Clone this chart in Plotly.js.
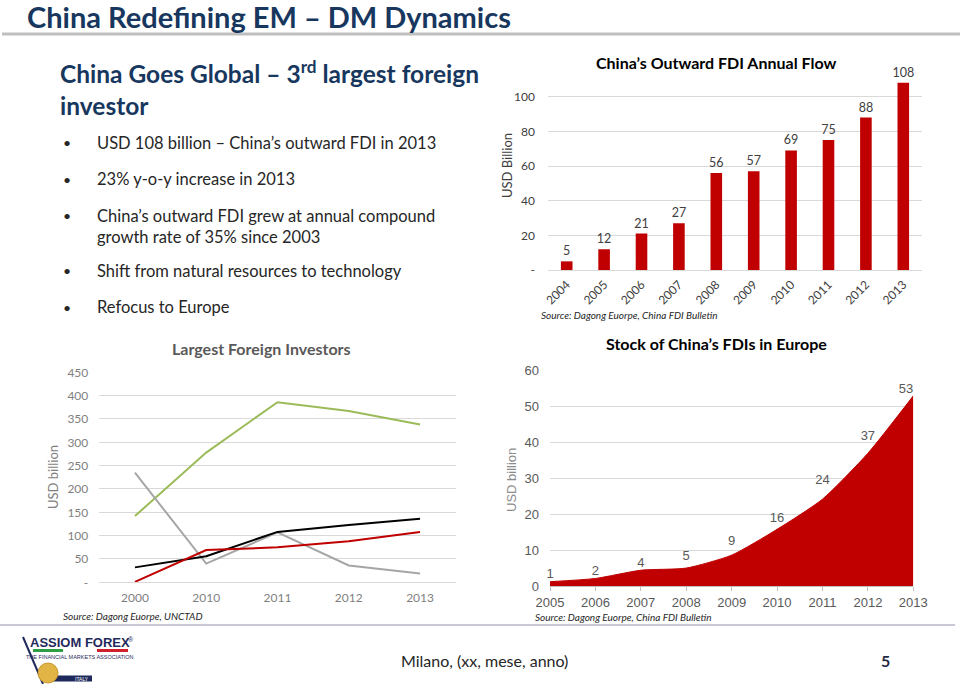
<!DOCTYPE html>
<html><head><meta charset="utf-8">
<script src="https://cdn.plot.ly/plotly-3.0.1.min.js"></script>
<style>html,body{margin:0;padding:0;background:#fff;overflow:hidden}#chart{width:960px;height:684px}</style>
</head><body><div id="chart"></div>
<script>
// ---- data ----
const flowYears = ['2004','2005','2006','2007','2008','2009','2010','2011','2012','2013'];
const flowValues = [5, 12, 21, 27, 56, 57, 69, 75, 88, 108];
const flowTickVals = [0, 20, 40, 60, 80, 100];
const flowTickText = ['-', '20', '40', '60', '80', '100'];

const investorYears = ['2000','2010','2011','2012','2013'];
const usValues    = [142, 278, 386, 367, 338];
const japanValues = [32, 56, 108, 123, 136];
const chinaValues = [1, 69, 75, 88, 108];
const ukValues    = [235, 40, 107, 36, 19];
const investorTickVals = [0, 50, 100, 150, 200, 250, 300, 350, 400, 450];
const investorTickText = ['-', '50', '100', '150', '200', '250', '300', '350', '400', '450'];

const stockYears  = ['2005','2006','2007','2008','2009','2010','2011','2012','2013'];
const stockValues = [1.2, 2.1, 4.4, 5.0, 8.6, 15.8, 24.2, 37, 53];
const stockLabels = ['1','2','4','5','9','16','24','37','53'];

// ---- helpers ----
const W = 960, H = 684;
const px = x => x / W;
const py = y => 1 - y / H;
const CAL = 'Lato, "Open Sans", sans-serif';
const ARI = '"Liberation Sans", Arial, sans-serif';
const NAVY = '#17375e';
const RED = '#c00000';

// spacing of the value labels above the area (style only)
const stockLabelGap = [0, 0, 0, 6, 10, 5, 17, 15, 0];

const traces = [
  { type: 'bar', x: flowYears, y: flowValues, xaxis: 'x', yaxis: 'y',
    marker: { color: RED }, text: flowValues.map(String), textposition: 'outside',
    constraintext: 'none', textfont: { family: CAL, size: 12.5, color: '#404040' }, cliponaxis: false,
    hoverinfo: 'skip' },
  { type: 'scatter', mode: 'lines', x: investorYears, y: usValues, xaxis: 'x2', yaxis: 'y2',
    line: { color: '#9bbb59', width: 2 }, name: 'US' },
  { type: 'scatter', mode: 'lines', x: investorYears, y: ukValues, xaxis: 'x2', yaxis: 'y2',
    line: { color: '#a6a6a6', width: 2 }, name: 'UK' },
  { type: 'scatter', mode: 'lines', x: investorYears, y: japanValues, xaxis: 'x2', yaxis: 'y2',
    line: { color: '#000000', width: 2 }, name: 'Japan' },
  { type: 'scatter', mode: 'lines', x: investorYears, y: chinaValues, xaxis: 'x2', yaxis: 'y2',
    line: { color: RED, width: 2 }, name: 'China' },
  { type: 'scatter', mode: 'lines', x: stockYears, y: stockValues, xaxis: 'x3', yaxis: 'y3',
    fill: 'tozeroy', fillcolor: RED, line: { color: RED, width: 1, shape: 'spline', smoothing: 0.6 } },
  { type: 'scatter', mode: 'markers+text', x: stockYears, y: stockValues, xaxis: 'x3', yaxis: 'y3',
    text: stockLabels, cliponaxis: false,
    marker: { size: stockLabelGap, color: 'rgba(0,0,0,0)', opacity: 0, line: { width: 0, color: 'rgba(0,0,0,0)' } },
    textposition: stockLabels.map((_, i) => i === stockLabels.length - 1 ? 'top left' : 'top center'),
    textfont: { family: ARI, size: 13, color: '#595959' } }
];

const gridC = '#d9d9d9';
const layout = {
  width: W, height: H, margin: { l: 0, r: 0, t: 0, b: 0 },
  paper_bgcolor: '#fff', plot_bgcolor: 'rgba(0,0,0,0)', showlegend: false,
  bargap: 0.69,
  xaxis: { domain: [px(548), px(922)], anchor: 'y', type: 'category', range: [-0.5, 9.5],
    tickangle: -45, tickfont: { family: CAL, size: 12, color: '#404040' },
    showline: true, linecolor: gridC, showgrid: false, ticks: '', ticklabelstandoff: 2 },
  yaxis: { domain: [py(270), py(79.4)], anchor: 'x', range: [0, 110],
    tickvals: flowTickVals, ticktext: flowTickText, gridcolor: gridC, zeroline: false,
    tickfont: { family: CAL, size: 12, color: '#404040' }, ticklabelstandoff: 12 },
  xaxis2: { domain: [px(99.3), px(455.7)], anchor: 'y2', type: 'category', range: [-0.5, 4.5],
    tickfont: { family: CAL, size: 12, color: '#7f7f7f' }, showline: true, linecolor: gridC,
    showgrid: false, ticks: '', ticklabelstandoff: 4 },
  yaxis2: { domain: [py(582.3), py(372.3)], anchor: 'x2', range: [0, 450],
    tickvals: investorTickVals, ticktext: investorTickText, gridcolor: gridC, zeroline: false,
    tickfont: { family: CAL, size: 12, color: '#7f7f7f' }, ticklabelstandoff: 10 },
  xaxis3: { domain: [px(550), px(913.3)], anchor: 'y3', type: 'category', range: [0, 8],
    tickfont: { family: ARI, size: 13, color: '#595959' }, showline: true, linecolor: '#bfbfbf',
    showgrid: false, ticks: 'outside', ticklen: 4, tickcolor: '#bfbfbf' },
  yaxis3: { domain: [py(586), py(370.7)], anchor: 'x3', range: [0, 60], dtick: 10,
    gridcolor: gridC, zeroline: false,
    tickfont: { family: ARI, size: 13, color: '#595959' }, ticklabelstandoff: 10 },
  shapes: [
    { type: 'line', xref: 'paper', yref: 'paper', x0: px(2), x1: 1, y0: py(34), y1: py(34),
      line: { color: '#bfbfbf', width: 3 } },
    { type: 'line', xref: 'paper', yref: 'paper', x0: 0, x1: px(955), y0: py(625), y1: py(625),
      line: { color: '#c9c9d6', width: 2 } },
    // logo
    { type: 'line', xref: 'paper', yref: 'paper', x0: px(23), y0: py(637), x1: px(43), y1: py(684),
      line: { color: '#1f2a5c', width: 2 } },
    { type: 'rect', xref: 'paper', yref: 'paper', x0: px(33), x1: px(63), y0: py(649), y1: py(652),
      fillcolor: '#2e9e44', line: { width: 0 } },
    { type: 'rect', xref: 'paper', yref: 'paper', x0: px(97), x1: px(128), y0: py(649), y1: py(652),
      fillcolor: '#d0202e', line: { width: 0 } },
    { type: 'rect', xref: 'paper', yref: 'paper', x0: px(48), x1: px(92), y0: py(675.5), y1: py(681.5),
      fillcolor: '#1f2a5c', line: { width: 0 } },
    { type: 'circle', xref: 'paper', yref: 'paper', x0: px(38), x1: px(58), y0: py(663), y1: py(683),
      fillcolor: '#e2b445', line: { color: '#c8962a', width: 1 } }
  ],
  annotations: []
};

function note(text, x, y, opts) {
  layout.annotations.push(Object.assign({ text, x: px(x), y: py(y), xref: 'paper', yref: 'paper',
    showarrow: false, xanchor: 'left', yanchor: 'middle' }, opts || {}));
}

// slide text
note('<b>China Redefining EM – DM Dynamics</b>', 25, 16, { font: { family: CAL, size: 29, color: NAVY } });
note('<b>China Goes Global – 3<sup>rd</sup> largest foreign<br>investor</b>', 58, 88,
  { font: { family: CAL, size: 24.5, color: NAVY }, align: 'left' });
const bullets = [
  ['USD 108 billion – China’s outward FDI in 2013', 143],
  ['23% y-o-y increase in 2013', 179],
  ['China’s outward FDI grew at annual compound<br>growth rate of 35% since 2003', 226],
  ['Shift from natural resources to technology', 271],
  ['Refocus to Europe', 307]
];
bullets.forEach(([t, y]) => {
  note('•', 61, y - (t.includes('<br>') ? 11 : 0), { font: { family: CAL, size: 14, color: '#262626' } });
  note(t, 95, y, { font: { family: CAL, size: 16.5, color: '#262626' }, align: 'left' });
});

// chart titles & axis titles
note('<b>China’s Outward FDI Annual Flow</b>', 716, 62, { xanchor: 'center', font: { family: CAL, size: 16, color: '#000' } });
note('USD Billion', 507, 165, { xanchor: 'center', textangle: -90, font: { family: CAL, size: 13, color: '#404040' } });
note('Source: Dagong Euorpe, China FDI Bulletin', 539, 315, { font: { family: CAL, size: 10, color: '#262626', style: 'italic' } });

note('<b>Largest Foreign Investors</b>', 261, 348, { xanchor: 'center', font: { family: CAL, size: 16, color: '#595959' } });
note('USD billion', 53, 477, { xanchor: 'center', textangle: -90, font: { family: CAL, size: 13, color: '#7f7f7f' } });
note('Source: Dagong Euorpe, UNCTAD', 61, 616, { font: { family: CAL, size: 10, color: '#262626', style: 'italic' } });

note('<b>Stock of China’s FDIs in Europe</b>', 716, 343, { xanchor: 'center', font: { family: CAL, size: 16, color: '#000' } });
note('USD billion', 511, 480, { xanchor: 'center', textangle: -90, font: { family: ARI, size: 13, color: '#8c8c8c' } });
note('Source: Dagong Euorpe, China FDI Bulletin', 533, 617, { font: { family: CAL, size: 10, color: '#262626', style: 'italic' } });

// line labels at last point
const lineSeries = [['US', usValues, 0], ['Japan', japanValues, 9], ['China', chinaValues, 0], ['UK', ukValues, 0]];
lineSeries.forEach(([name, vals, ys]) => {
  layout.annotations.push({ text: name, xref: 'x2', yref: 'y2', x: investorYears[investorYears.length - 1],
    y: vals[vals.length - 1], xshift: 12, yshift: ys, xanchor: 'left', yanchor: 'middle', showarrow: false,
    font: { family: CAL, size: 13, color: '#404040' } });
});

// footer
note('Milano, (xx, mese, anno)', 484, 660, { xanchor: 'center', font: { family: CAL, size: 16, color: '#262626' } });
note('<b>5</b>', 885, 660, { xanchor: 'center', font: { family: CAL, size: 16, color: '#1f2a44' } });
note('<b>ASSIOM FOREX</b>', 80, 642, { xanchor: 'center', font: { family: ARI, size: 13, color: '#1f2a5c' } });
note('®', 131, 639, { xanchor: 'center', font: { family: ARI, size: 7, color: '#1f2a5c' } });
note('THE FINANCIAL MARKETS ASSOCIATION', 80, 657, { xanchor: 'center', font: { family: ARI, size: 5.5, color: '#1f2a5c' } });
note('ITALY', 82, 678.5, { xanchor: 'center', font: { family: ARI, size: 5, color: '#ffffff' } });

Plotly.newPlot('chart', traces, layout, { staticPlot: true, displayModeBar: false });
</script></body></html>
